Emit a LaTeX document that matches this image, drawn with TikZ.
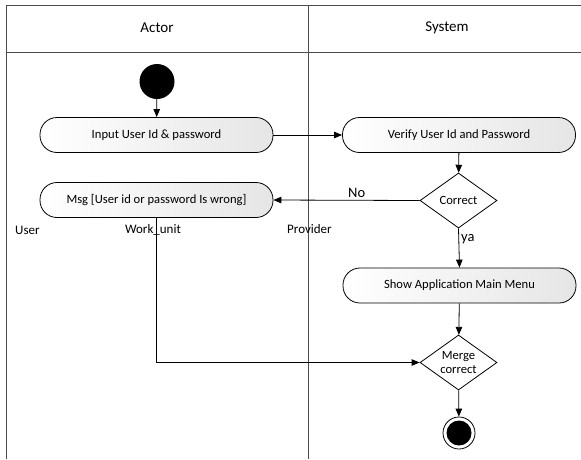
\documentclass[tikz,border=0pt]{standalone}
\usepackage{fontspec}
\setmainfont{Carlito}
\usetikzlibrary{shapes.geometric,arrows.meta}
\begin{document}
\begin{tikzpicture}[x=1pt,y=-1pt,
  lane/.style={draw=black!70, line width=0.9pt},
  act/.style={draw, line width=0.8pt, rectangle, rounded corners=17pt,
    minimum width=233pt, minimum height=35pt, inner sep=0pt,
    left color=white, right color=black!10,
    font=\fontsize{12.6}{14}\selectfont},
  dec/.style={draw, line width=0.8pt, diamond, aspect=1.4, inner sep=0pt,
    minimum width=77pt, minimum height=55pt, fill=white, align=center,
    font=\fontsize{12.6}{14.5}\selectfont},
  arr/.style={draw, line width=0.8pt, -{Triangle[length=8pt,width=6.5pt]}},
  lbl/.style={font=\fontsize{13}{15}\selectfont, inner sep=0pt},
  hdr/.style={font=\fontsize{15}{17}\selectfont, inner sep=0pt}]
\useasboundingbox (0,0) rectangle (581,459);
% swimlanes
\draw[lane] (6,459) -- (6,5) -- (581,5);
\draw[lane] (6,52) -- (581,52);
\draw[lane] (308,5) -- (308,459);
\node[hdr] (hactor) at (157,28) {Actor};
\node[hdr] (hsys) at (447,28) {System};
% nodes
\node[circle, fill=black, minimum size=35pt, inner sep=0pt] (start) at (157,81.5) {};
\node[act] (input) at (156.5,135) {Input User Id \& password};
\node[act] (msg) at (156.5,200) {Msg [User id or password Is wrong]};
\node[act] (verify) at (459,135) {Verify User Id and Password};
\node[dec] (correct) at (458.5,200.5) {Correct};
\node[act] (show) at (459.5,285.5) {Show Application Main Menu};
\node[dec] (merge) at (458.5,362.5) {Merge\\correct};
\node[circle, draw, line width=0.8pt, minimum size=32pt, inner sep=0pt] (end) at (459,433) {};
\fill (end.center) circle (12.5pt);
% labels
\node[lbl, anchor=west] (user) at (15,230) {User};
\node[lbl] (wu) at (153,230) {Work\_unit};
\node[lbl, anchor=west] (prov) at (287,229) {Provider};
% edges
\draw[arr] (start) -- (input);
\draw[arr] (input) -- (verify);
\draw[arr] (verify) -- (correct);
\draw[arr] (correct.west) -- node[pos=0.43, above=1pt, font=\fontsize{14.5}{16}\selectfont, inner sep=1pt] {No} (msg.east);
\draw[arr] (correct.south) -- node[pos=0.27, right=1pt, font=\fontsize{14.5}{16}\selectfont, inner sep=1pt] {ya} (show.north);
\draw[arr] (show) -- (merge);
\draw[arr] (msg.south) |- (merge.west);
\draw[arr] (merge) -- (end);
\end{tikzpicture}
\end{document}
